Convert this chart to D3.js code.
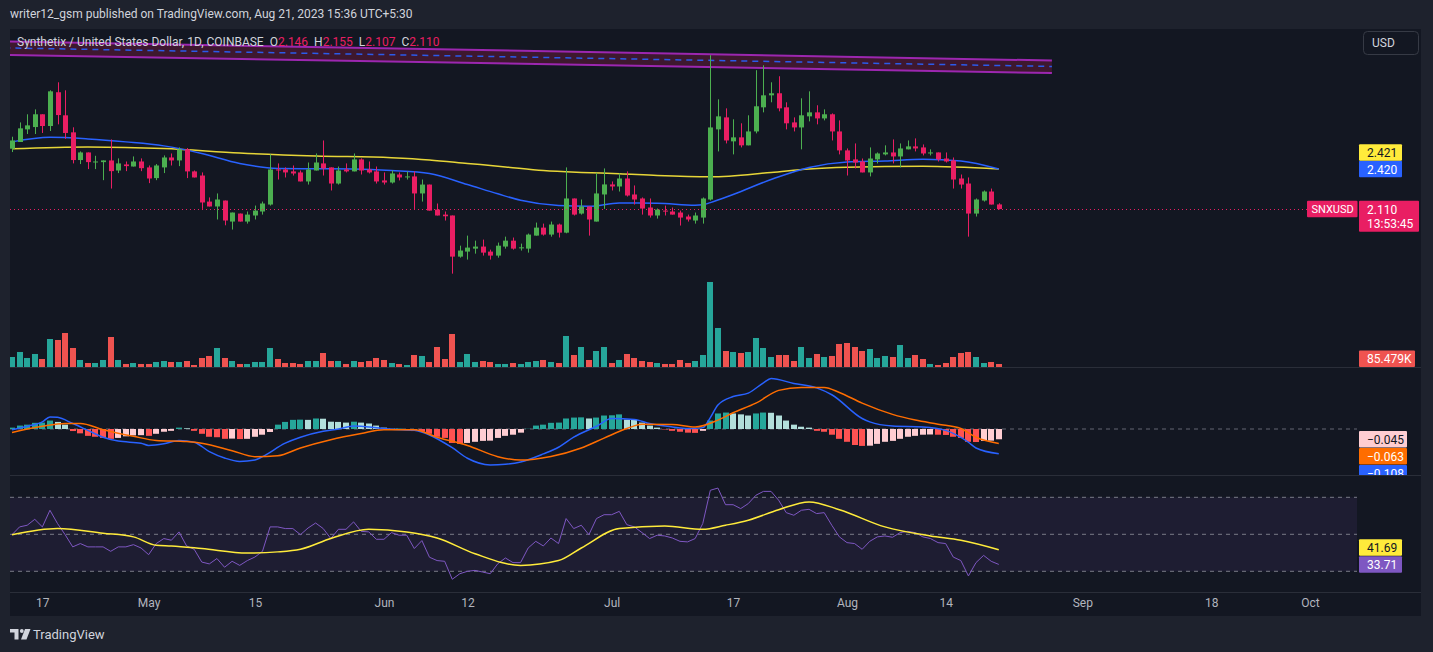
<!DOCTYPE html>
<html>
<head>
<meta charset="utf-8">
<script src="https://cdn.jsdelivr.net/npm/d3@7"></script>
<style>
  html, body { margin: 0; padding: 0; background: #1e222d; }
  svg { display: block; font-family: Roboto, "Noto Sans", sans-serif; }
</style>
</head>
<body>
<svg id="chart" width="1433" height="652"></svg>
<script>
// ---- data (SNX/USD daily, Apr 13 .. Aug 21 2023) ----
const startDate = new Date(Date.UTC(2023, 3, 13));

const opens = [2.578,2.630,2.728,2.746,2.845,2.754,3.016,2.837,2.705,2.490,
  2.549,2.474,2.474,2.487,2.409,2.456,2.440,2.479,2.433,2.350,
  2.433,2.510,2.487,2.573,2.402,2.370,2.168,2.130,2.176,2.013,
  2.075,2.013,2.060,2.091,2.145,2.417,2.417,2.402,2.394,2.324,
  2.409,2.464,2.433,2.308,2.417,2.402,2.495,2.417,2.402,2.332,
  2.316,2.378,2.358,2.363,2.231,2.300,2.106,2.067,2.060,1.741,
  1.780,1.803,1.819,1.780,1.749,1.819,1.865,1.806,1.803,1.904,
  1.966,1.912,1.990,1.927,2.192,2.075,2.130,2.013,2.223,2.301,
  2.285,2.347,2.223,2.192,2.122,2.060,2.098,2.091,2.083,2.052,
  2.021,2.044,2.184,2.728,2.821,2.635,2.666,2.604,2.712,2.899,
  2.992,3.008,2.899,2.782,2.743,2.829,2.860,2.813,2.845,2.712,
  2.565,2.495,2.479,2.394,2.495,2.534,2.549,2.518,2.573,2.596,
  2.588,2.541,2.549,2.502,2.487,2.347,2.308,2.075,2.176,2.246,
  2.146];
const highs = [2.671,2.782,2.845,2.883,2.845,3.031,3.093,3.031,2.744,2.557,
  2.549,2.523,2.487,2.650,2.503,2.479,2.518,2.503,2.448,2.459,
  2.526,2.541,2.588,2.583,2.409,2.394,2.200,2.231,2.176,2.083,
  2.075,2.091,2.137,2.168,2.534,2.464,2.433,2.448,2.409,2.471,
  2.541,2.642,2.433,2.440,2.464,2.541,2.503,2.479,2.440,2.394,
  2.409,2.394,2.402,2.402,2.339,2.300,2.153,2.091,2.060,1.826,
  1.904,1.865,1.873,1.795,1.850,1.896,1.889,1.842,1.920,2.005,
  1.997,2.013,1.997,2.433,2.192,2.184,2.130,2.391,2.425,2.324,
  2.386,2.402,2.293,2.200,2.192,2.114,2.137,2.122,2.098,2.067,
  2.083,2.200,3.303,2.961,2.891,2.806,2.775,2.837,3.187,3.225,
  3.093,3.140,2.938,2.821,2.969,3.023,2.915,2.883,2.852,2.798,
  2.580,2.619,2.502,2.588,2.549,2.604,2.650,2.619,2.642,2.658,
  2.611,2.573,2.549,2.549,2.510,2.378,2.355,2.192,2.254,2.269,
  2.155];
const lows = [2.552,2.630,2.692,2.692,2.700,2.715,2.767,2.655,2.464,2.459,
  2.420,2.420,2.334,2.269,2.389,2.404,2.440,2.404,2.311,2.334,
  2.389,2.448,2.443,2.350,2.355,2.111,2.130,2.029,1.984,1.951,
  2.013,1.997,2.029,2.067,2.137,2.339,2.355,2.370,2.324,2.300,
  2.409,2.370,2.254,2.300,2.394,2.402,2.378,2.386,2.308,2.300,
  2.308,2.332,2.339,2.106,2.168,2.098,2.060,2.021,1.609,1.733,
  1.718,1.764,1.749,1.718,1.733,1.803,1.795,1.788,1.772,1.904,
  1.904,1.896,1.889,1.922,2.060,2.067,1.904,2.013,2.111,2.254,
  2.246,2.207,2.145,2.067,2.044,2.036,2.060,2.067,1.982,2.013,
  1.997,1.997,2.176,2.557,2.619,2.534,2.588,2.604,2.697,2.860,
  2.938,2.868,2.728,2.712,2.573,2.790,2.767,2.798,2.642,2.534,
  2.370,2.425,2.394,2.363,2.464,2.526,2.464,2.433,2.573,2.557,
  2.526,2.526,2.479,2.471,2.269,2.269,1.896,2.052,2.168,2.145,
  2.107];
const closes = [2.642,2.736,2.759,2.845,2.754,3.023,2.839,2.700,2.490,2.549,
  2.474,2.479,2.487,2.404,2.464,2.443,2.479,2.427,2.347,2.448,
  2.510,2.487,2.573,2.402,2.355,2.161,2.130,2.184,2.021,2.083,
  2.013,2.067,2.098,2.153,2.417,2.409,2.394,2.386,2.324,2.417,
  2.471,2.425,2.308,2.409,2.402,2.495,2.409,2.394,2.324,2.316,
  2.386,2.355,2.363,2.231,2.300,2.098,2.060,2.054,1.741,1.788,
  1.811,1.819,1.772,1.749,1.826,1.865,1.803,1.813,1.912,1.966,
  1.912,1.990,1.927,2.192,2.067,2.130,2.029,2.231,2.301,2.285,
  2.347,2.215,2.184,2.114,2.060,2.106,2.091,2.067,2.044,2.029,
  2.060,2.192,2.743,2.829,2.642,2.666,2.604,2.712,2.907,2.992,
  3.008,2.891,2.775,2.743,2.837,2.860,2.813,2.845,2.712,2.565,
  2.487,2.471,2.394,2.502,2.541,2.549,2.518,2.580,2.596,2.580,
  2.541,2.549,2.495,2.479,2.339,2.300,2.075,2.184,2.246,2.145,
  2.110];
// volume in thousands
const volumes = [285,428,257,371,228,798,770,969,542,200,
  114,114,200,855,200,86,114,86,86,143,
  171,143,143,171,57,257,314,542,257,171,
  86,86,143,143,542,228,114,114,86,171,
  171,399,171,171,86,171,143,171,257,200,
  114,86,57,342,314,143,570,228,941,143,
  371,143,171,143,86,86,114,86,143,171,
  200,143,114,884,342,570,200,456,570,114,
  200,371,257,171,143,114,86,86,200,114,
  171,342,2423,1112,456,428,399,428,827,542,
  285,342,342,171,570,257,371,285,314,656,
  684,570,456,513,257,314,285,627,257,342,
  228,86,57,114,285,399,428,285,114,143,
  85.479];
const macdHist = [0.006,0.015,0.019,0.027,0.028,0.037,0.031,0.019,-0.009,-0.019,
  -0.030,-0.034,-0.039,-0.043,-0.039,-0.032,-0.028,-0.027,-0.030,-0.021,
  -0.012,-0.008,0.006,0.003,-0.008,-0.021,-0.034,-0.036,-0.043,-0.042,
  -0.044,-0.043,-0.034,-0.025,-0.013,0.019,0.031,0.040,0.041,0.040,
  0.046,0.045,0.032,0.031,0.028,0.032,0.028,0.024,0.015,0.006,
  0.001,0.002,-0.001,-0.009,-0.012,-0.021,-0.034,-0.039,-0.061,-0.065,
  -0.061,-0.056,-0.052,-0.051,-0.039,-0.030,-0.025,-0.016,0.001,0.015,
  0.019,0.027,0.028,0.046,0.050,0.051,0.046,0.050,0.059,0.060,
  0.064,0.041,0.040,0.028,0.015,0.006,-0.002,-0.008,-0.012,-0.016,
  -0.017,-0.008,0.037,0.068,0.072,0.068,0.064,0.059,0.068,0.072,
  0.071,0.059,0.037,0.019,0.010,0.006,-0.008,-0.012,-0.025,-0.043,
  -0.056,-0.070,-0.074,-0.073,-0.065,-0.056,-0.052,-0.043,-0.034,-0.030,
  -0.025,-0.024,-0.025,-0.026,-0.034,-0.039,-0.056,-0.057,-0.052,-0.051,
  -0.045];
const rsiValues = [49.8,54.0,54.9,58.1,54.0,63.0,55.8,49.8,43.2,45.0,
  43.2,43.2,43.2,40.8,43.2,43.2,44.4,42.6,39.0,45.0,
  47.7,46.8,51.3,43.7,41.9,35.0,34.0,36.9,32.2,35.4,
  33.2,35.8,37.7,40.8,54.0,54.0,53.1,53.1,49.8,53.4,
  56.1,53.1,47.7,52.7,52.7,56.7,51.6,51.3,47.3,47.3,
  50.9,49.5,49.5,42.3,46.6,37.6,35.8,35.4,25.7,28.7,
  30.0,30.5,29.6,28.7,34.1,37.2,34.7,34.7,42.6,46.2,
  43.7,48.0,45.0,58.5,53.1,54.9,49.8,58.5,60.6,60.6,
  62.4,55.2,54.0,50.9,47.7,49.5,49.1,48.0,46.2,45.9,
  47.7,55.8,73.8,75.0,66.0,66.0,63.9,66.6,71.1,73.2,
  73.2,68.4,61.7,60.3,63.0,63.5,61.2,61.7,54.9,48.6,
  45.5,45.0,41.9,46.2,48.6,49.1,48.4,50.9,51.6,50.9,
  48.6,47.7,45.5,45.0,37.7,35.8,27.5,34.7,38.6,35.4,
  33.71];

// indicator lines as [day index, value]
const maBlue = [[0,2.631],[5,2.666],[10,2.654],[15,2.631],[20,2.600],[25,2.541],[30,2.464],
  [35,2.425],[40,2.423],[45,2.421],[50,2.409],[55,2.386],[60,2.300],[64,2.228],[67,2.178],
  [72,2.137],[76,2.131],[80,2.157],[85,2.155],[90,2.140],[91,2.143],[92,2.160],[95,2.223],
  [100,2.339],[105,2.433],[110,2.475],[115,2.483],[120,2.496],[125,2.483],[130,2.420]];
const maYellow = [[0,2.578],[10,2.592],[20,2.580],[30,2.545],[40,2.522],[50,2.508],[55,2.491],
  [60,2.464],[65,2.437],[70,2.409],[75,2.394],[80,2.384],[85,2.370],[92,2.360],[100,2.394],
  [105,2.421],[110,2.434],[120,2.442],[130,2.421]];
const macdLine = [[0,-0.003],[2,0.012],[4,0.031],[5,0.053],[6,0.051],[8,0.024],[10,-0.006],
  [12,-0.036],[14,-0.053],[17,-0.062],[18,-0.072],[20,-0.065],[22,-0.050],[24,-0.058],
  [26,-0.099],[28,-0.127],[30,-0.142],[32,-0.136],[33,-0.121],[36,-0.062],[38,-0.036],
  [41,-0.010],[43,0.000],[45,0.013],[48,0.006],[50,-0.001],[53,-0.006],[55,-0.026],
  [58,-0.082],[60,-0.128],[63,-0.157],[65,-0.154],[67,-0.144],[70,-0.109],[72,-0.080],
  [74,-0.036],[77,0.012],[79,0.046],[82,0.042],[84,0.024],[87,0.009],[89,0.002],[91,0.006],
  [92,0.050],[93,0.105],[95,0.142],[97,0.157],[99,0.202],[100,0.221],[103,0.199],
  [106,0.180],[108,0.150],[112,0.046],[113,0.031],[116,0.013],[120,0.009],[123,-0.006],
  [126,-0.058],[127,-0.083],[130,-0.108]];
const signalLine = [[0,-0.015],[4,0.012],[7,0.024],[9,0.024],[12,-0.003],[16,-0.032],
  [19,-0.050],[23,-0.055],[25,-0.062],[29,-0.095],[32,-0.121],[35,-0.117],[38,-0.083],
  [42,-0.047],[46,-0.020],[49,-0.003],[53,-0.003],[56,-0.036],[60,-0.072],[64,-0.121],
  [67,-0.136],[71,-0.120],[75,-0.083],[78,-0.040],[81,0.002],[83,0.021],[87,0.020],
  [90,0.009],[93,0.039],[95,0.071],[98,0.113],[101,0.169],[104,0.182],[107,0.182],
  [109,0.160],[112,0.113],[116,0.064],[119,0.039],[122,0.021],[125,0.002],[127,-0.036],
  [130,-0.063]];
const rsiMa = [[0,49.8],[6,53.1],[12,50.6],[16,48.6],[19,44.1],[21,43.7],[25,42.3],[31,39.9],
  [35,40.5],[38,41.9],[42,47.7],[47,52.7],[52,51.3],[56,48.0],[61,39.5],[67,33.2],[72,35.8],
  [75,42.6],[80,53.1],[86,54.5],[91,52.7],[94,54.9],[97,57.6],[101,63.3],[105,67.5],
  [109,63.3],[115,54.0],[121,49.1],[125,46.8],[130,41.69]];
// descending channel drawn on the chart: [day index, price]
const channelTop = [[-1,3.411],[137,3.262]];
const channelMid = [[-1,3.360],[137,3.216]];
const channelBottom = [[-1,3.306],[137,3.165]];

// ticks that are not hidden behind value tags
const priceTicks = [1.0, 1.5, 3.0];
const macdTicks = [0, 0.2];
const rsiTicks = [60, 80];
const timeTicks = [[2023,3,17],[2023,4,1],[2023,4,15],[2023,5,1],[2023,5,12],[2023,6,1],
  [2023,6,17],[2023,7,1],[2023,7,14],[2023,8,1],[2023,8,18],[2023,9,1]];
const timeLabels = ['17','May','15','Jun','12','Jul','17','Aug','14','Sep','18','Oct'];

// ---- layout ----
const W = 1433, H = 652;
const L = 10, R = 1357, AX = 1367;
const mainPane = [29, 367], macdPane = [368, 475], rsiPane = [476, 592];
const UP = '#4caf50', DOWN = '#e91e63';

const day = i => d3.utcDay.offset(startDate, i);
const x = d3.scaleUtc().domain([day(0), day(171)]).range([12, 1310]);
const yPrice = d3.scaleLinear().domain([1.5, 3]).range([287.7, 94.3]);
const yVol = d3.scaleLinear().domain([0, 2508]).range([367, 279]);
const yMacd = d3.scaleLinear().domain([0, 0.2]).range([429, 383.3]);
const yRsi = d3.scaleLinear().domain([30, 70]).range([571.3, 497.3]);

const cx = i => Math.round(x(day(i))) + 0.5;
const candles = opens.map((o, i) => ({ i, o, h: highs[i], l: lows[i], c: closes[i], v: volumes[i] }));

const svg = d3.select('#chart');
svg.append('rect').attr('width', W).attr('height', H).attr('fill', '#1e222d');
svg.append('rect').attr('x', L).attr('y', 29).attr('width', 1411).attr('height', 587).attr('fill', '#131722');

const defs = svg.append('defs');
function clip(id, x0, y0, x1, y1) {
  defs.append('clipPath').attr('id', id).append('rect')
    .attr('x', x0).attr('y', y0).attr('width', x1 - x0).attr('height', y1 - y0);
  return `url(#${id})`;
}

// header
svg.append('text').attr('x', 10).attr('y', 14).attr('dy', '0.35em')
  .attr('fill', '#d1d4dc').attr('font-size', 12)
  .text('writer12_gsm published on TradingView.com, Aug 21, 2023 15:36 UTC+5:30');

// pane separators
[367.5, 475.5, 592.5].forEach(yy => {
  svg.append('line').attr('x1', L).attr('x2', 1421).attr('y1', yy).attr('y2', yy)
    .attr('stroke', '#2a2e39');
});

// ---- main pane ----
const main = svg.append('g').attr('clip-path', clip('c-main', L, mainPane[0], R, mainPane[1]));

main.selectAll('rect.vol').data(candles).join('rect')
  .attr('class', 'vol')
  .attr('x', d => cx(d.i) - 3.5).attr('width', 6)
  .attr('y', d => yVol(d.v)).attr('height', d => yVol(0) - yVol(d.v))
  .attr('fill', d => d.c >= d.o ? '#26a69a' : '#ef5350');

const chLine = d3.line().x(d => x(day(d[0]))).y(d => yPrice(d[1]));
const band = channelTop.concat(channelBottom.slice().reverse());
main.append('path').attr('d', chLine(band) + 'Z').attr('fill', 'rgba(233,30,99,0.2)');
main.append('path').attr('d', chLine(channelMid)).attr('stroke', '#2962ff')
  .attr('stroke-width', 1.5).attr('stroke-dasharray', '6,5').attr('fill', 'none').attr('opacity', 0.9);
[channelTop, channelBottom].forEach(c => {
  main.append('path').attr('d', chLine(c)).attr('stroke', '#9c27b0')
    .attr('stroke-width', 2).attr('fill', 'none');
});

const maLine = d3.line().x(d => x(day(d[0]))).y(d => yPrice(d[1])).curve(d3.curveMonotoneX);
main.append('path').attr('d', maLine(maYellow)).attr('stroke', '#ffeb3b')
  .attr('stroke-width', 1.5).attr('fill', 'none').attr('opacity', 0.9);
main.append('path').attr('d', maLine(maBlue)).attr('stroke', '#2962ff')
  .attr('stroke-width', 1.5).attr('fill', 'none');

const cg = main.selectAll('g.candle').data(candles).join('g').attr('class', 'candle')
  .attr('fill', d => d.c >= d.o ? UP : DOWN).attr('stroke', d => d.c >= d.o ? UP : DOWN);
cg.append('line')
  .attr('x1', d => cx(d.i)).attr('x2', d => cx(d.i))
  .attr('y1', d => yPrice(d.h)).attr('y2', d => yPrice(d.l));
cg.append('rect').attr('stroke', 'none')
  .attr('x', d => cx(d.i) - 2.5).attr('width', 5)
  .attr('y', d => yPrice(Math.max(d.o, d.c)))
  .attr('height', d => Math.max(1, Math.abs(yPrice(d.o) - yPrice(d.c))));

const last = candles[candles.length - 1];
main.append('line').attr('x1', L).attr('x2', 1307)
  .attr('y1', Math.round(yPrice(last.c)) + 0.5).attr('y2', Math.round(yPrice(last.c)) + 0.5)
  .attr('stroke', DOWN).attr('stroke-dasharray', '1,3');

// legend
const legend = svg.append('text').attr('x', 17).attr('y', 42).attr('dy', '0.35em')
  .attr('font-size', 12).attr('fill', '#d1d4dc');
legend.append('tspan').text('Synthetix / United States Dollar, 1D, COINBASE');
[['O', last.o], ['H', last.h], ['L', last.l], ['C', last.c]].forEach(([k, v]) => {
  legend.append('tspan').attr('dx', 6).text(k);
  legend.append('tspan').attr('fill', DOWN).text(v.toFixed(3));
});

// ---- MACD pane ----
const macd = svg.append('g').attr('clip-path', clip('c-macd', L, macdPane[0], R, macdPane[1]));
macd.append('line').attr('x1', L).attr('x2', R).attr('y1', yMacd(0)).attr('y2', yMacd(0))
  .attr('stroke', '#787b86').attr('stroke-dasharray', '4,4').attr('opacity', 0.8);
macd.selectAll('rect').data(macdHist).join('rect')
  .attr('x', (d, i) => cx(i) - 3.5).attr('width', 6)
  .attr('y', d => yMacd(Math.max(0, d)))
  .attr('height', d => Math.abs(yMacd(d) - yMacd(0)))
  .attr('fill', (d, i) => {
    const prev = i ? macdHist[i - 1] : -Infinity;
    if (d >= 0) return d > prev ? '#26a69a' : '#b2dfdb';
    return d < prev ? '#ff5252' : '#ffcdd2';
  });
const mLine = d3.line().x(d => x(day(d[0]))).y(d => yMacd(d[1])).curve(d3.curveMonotoneX);
macd.append('path').attr('d', mLine(macdLine)).attr('stroke', '#2962ff')
  .attr('stroke-width', 1.5).attr('fill', 'none');
macd.append('path').attr('d', mLine(signalLine)).attr('stroke', '#ff6d00')
  .attr('stroke-width', 1.5).attr('fill', 'none');

// ---- RSI pane ----
const rsi = svg.append('g').attr('clip-path', clip('c-rsi', L, rsiPane[0], R, rsiPane[1]));
rsi.append('rect').attr('x', L).attr('width', R - L)
  .attr('y', yRsi(70)).attr('height', yRsi(30) - yRsi(70)).attr('fill', 'rgba(126,87,194,0.1)');
[70, 50, 30].forEach(v => {
  rsi.append('line').attr('x1', L).attr('x2', R).attr('y1', yRsi(v)).attr('y2', yRsi(v))
    .attr('stroke', '#787b86').attr('stroke-dasharray', '4,4');
});
rsi.append('path').attr('d', d3.line().x((d, i) => x(day(i))).y(d => yRsi(d))(rsiValues))
  .attr('stroke', '#7e57c2').attr('stroke-width', 1).attr('fill', 'none');
rsi.append('path')
  .attr('d', d3.line().x(d => x(day(d[0]))).y(d => yRsi(d[1])).curve(d3.curveMonotoneX)(rsiMa))
  .attr('stroke', '#ffeb3b').attr('stroke-width', 1.5).attr('fill', 'none');

// ---- right axes ----
function axisLabels(g, scale, ticks, fmt) {
  g.attr('transform', `translate(${AX},0)`)
    .call(d3.axisRight(scale).tickValues(ticks).tickFormat(fmt).tickSize(0).tickPadding(0))
    .call(a => a.select('.domain').remove())
    .call(a => a.selectAll('text').attr('fill', '#b2b5be').attr('font-size', 12)
      .attr('font-family', 'Roboto, sans-serif'));
}
axisLabels(svg.append('g').attr('clip-path', clip('a-main', 1357, mainPane[0], 1421, mainPane[1])),
  yPrice, priceTicks, d3.format('.3f'));
axisLabels(svg.append('g').attr('clip-path', clip('a-macd', 1357, macdPane[0], 1421, macdPane[1])),
  yMacd, macdTicks, d3.format('.3f'));
axisLabels(svg.append('g').attr('clip-path', clip('a-rsi', 1357, rsiPane[0], 1421, rsiPane[1])),
  yRsi, rsiTicks, d3.format('.2f'));

// value tags
const minus = s => s.replace('-', '\u2212');
function tag(parent, x0, yTop, w, h, bg, fg, lines, size = 12, pad = 8) {
  const g = parent.append('g');
  g.append('rect').attr('x', x0).attr('y', yTop).attr('width', w).attr('height', h)
    .attr('fill', bg).attr('rx', 1);
  lines.forEach((t, k) => {
    g.append('text').attr('x', x0 + pad).attr('y', yTop + 8.5 + k * 14).attr('dy', '0.35em')
      .attr('font-size', size).attr('fill', fg).text(t);
  });
}
const TH = 16.5;
const tags = svg.append('g');
const yBlue = yPrice(maBlue[maBlue.length - 1][1]);
tag(tags, 1359, yBlue - TH / 2, 43, TH, '#2962ff', '#ffffff', [maBlue[maBlue.length - 1][1].toFixed(3)]);
tag(tags, 1359, yBlue - TH / 2 - TH, 43, TH, '#ffeb3b', '#131722', [maYellow[maYellow.length - 1][1].toFixed(3)]);
const yLast = yPrice(last.c);
tag(tags, 1307, yLast - TH / 2, 50.5, TH, DOWN, '#ffffff', ['SNXUSD'], 11, 4.5);
tag(tags, 1359, yLast - TH / 2, 60, 31, DOWN, '#ffffff', [last.c.toFixed(3), '13:53:45']);
const vTop = Math.min(yVol(last.v) - TH / 2, mainPane[1] - TH);
tag(tags, 1359, vTop, 56, TH, '#ef5350', '#ffffff', [last.v.toFixed(3) + 'K']);

const macdTags = svg.append('g').attr('clip-path', clip('t-macd', 1357, macdPane[0], 1421, macdPane[1]));
const hLast = macdHist[macdHist.length - 1];
const yH = yMacd(hLast) - TH / 2;
tag(macdTags, 1359, yH, 48, TH, '#ffcdd2', '#131722', [minus(hLast.toFixed(3))]);
tag(macdTags, 1359, yH + TH + 0.5, 48, TH, '#ff6d00', '#ffffff', [minus(signalLine[signalLine.length - 1][1].toFixed(3))]);
tag(macdTags, 1359, yH + 2 * (TH + 0.5), 48, TH, '#2962ff', '#ffffff', [minus(macdLine[macdLine.length - 1][1].toFixed(3))]);

const rLast = rsiValues[rsiValues.length - 1];
const yR = yRsi(rLast) - TH / 2;
tag(svg, 1359, yR, 43, TH, '#7e57c2', '#ffffff', [rLast.toFixed(2)]);
tag(svg, 1359, yR - TH - 0.5, 43, TH, '#ffeb3b', '#131722', [rsiMa[rsiMa.length - 1][1].toFixed(2)]);

// currency button
svg.append('rect').attr('x', 1363.5).attr('y', 31.5).attr('width', 55).attr('height', 23)
  .attr('rx', 4).attr('fill', 'none').attr('stroke', '#363a45');
svg.append('text').attr('x', 1372).attr('y', 43).attr('dy', '0.35em').attr('font-size', 12)
  .attr('fill', '#d1d4dc').text('USD');

// ---- time axis ----
const tAxis = svg.append('g').attr('transform', 'translate(0,603)')
  .call(d3.axisBottom(x).tickValues(timeTicks.map(t => new Date(Date.UTC(...t))))
    .tickFormat((d, i) => timeLabels[i]).tickSize(0).tickPadding(0));
tAxis.select('.domain').remove();
tAxis.selectAll('text').attr('y', 0).attr('dy', '0.35em').attr('fill', '#b2b5be')
  .attr('font-size', 12).attr('font-family', 'Roboto, sans-serif');

// ---- footer logo ----
const logo = svg.append('g').attr('fill', '#d1d4dc');
logo.append('path').attr('d', 'M10,629 H18.5 V639.5 H14.5 V632.5 H10 Z');
logo.append('circle').attr('cx', 21.8).attr('cy', 631).attr('r', 1.9);
logo.append('path').attr('d', 'M25,629 H30.5 L26.5,639.5 H21 Z');
svg.append('text').attr('x', 33).attr('y', 634).attr('dy', '0.35em').attr('font-size', 13)
  .attr('fill', '#d1d4dc').text('TradingView');
</script>
</body>
</html>
